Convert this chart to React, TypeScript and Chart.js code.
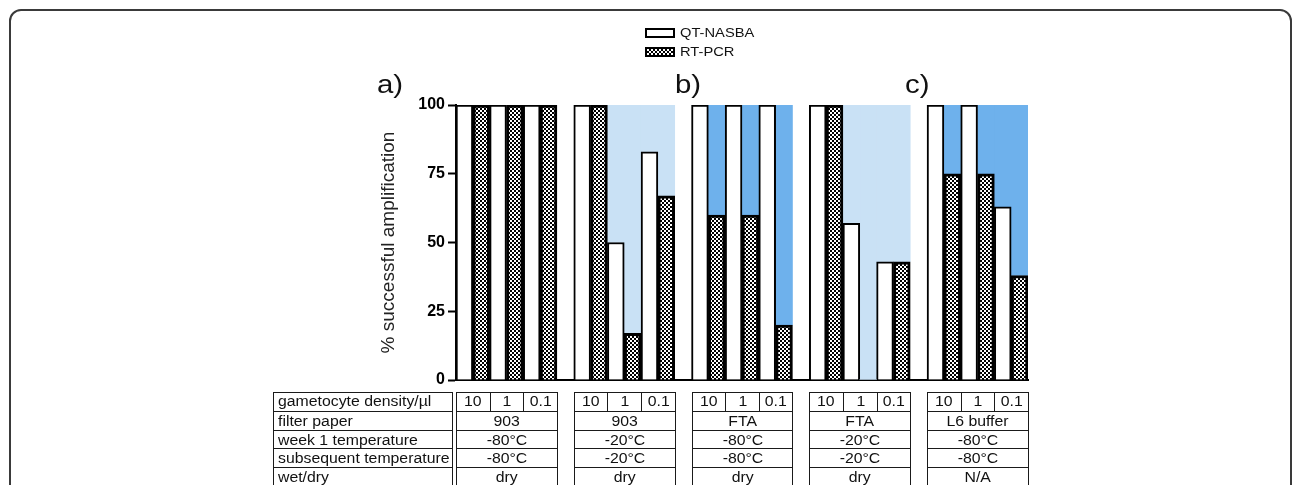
import React, { useEffect, useRef, useState } from 'react';
import { Chart, registerables } from 'chart.js';

Chart.register(...registerables);

// ---------- data ----------
const GROUP_COUNT = 5;
const DENSITIES = ['10', '1', '0.1'];
const QT_NASBA = [100, 100, 100, 100, 50, 83, 100, 100, 100, 100, 57, 43, 100, 100, 63];
const RT_PCR = [100, 100, 100, 100, 17, 67, 60, 60, 20, 100, 0, 43, 75, 75, 38];
const SHADE_COLORS = ['rgba(0,0,0,0)', '#c9e1f5', '#6eb1ec', '#c9e1f5', '#6eb1ec'];
const Y_TICKS = [0, 25, 50, 75, 100];
const ROW_LABELS = ['gametocyte density/µl', 'filter paper', 'week 1 temperature', 'subsequent temperature', 'wet/dry'];
const FILTER_PAPER = ['903', '903', 'FTA', 'FTA', 'L6 buffer'];
const WEEK1_TEMP = ['-80°C', '-20°C', '-80°C', '-20°C', '-80°C'];
const SUBSEQ_TEMP = ['-80°C', '-20°C', '-80°C', '-20°C', '-80°C'];
const WET_DRY = ['dry', 'dry', 'dry', 'dry', 'N/A'];
const PANEL_LABELS = ['a)', 'b)', 'c)'];
const LEGEND = ['QT-NASBA', 'RT-PCR'];

// ---------- layout ----------
const W = 1292;
const H = 485;
const FONT = '"Liberation Sans", Arial, Helvetica, sans-serif';
const PAIR_UNITS = 2; // two bars per density
const GROUP_GAP = 1;
const GROUP_UNITS = DENSITIES.length * PAIR_UNITS + GROUP_GAP;
const X_MAX = GROUP_COUNT * GROUP_UNITS - GROUP_GAP;
const pairCenter = (i: number) => Math.floor(i / 3) * GROUP_UNITS + (i % 3) * PAIR_UNITS + 1;
const groupOf = (i: number) => Math.floor(i / 3);

const TABLE_TOP = 392;
const ROW_H = 18.8;
const STRETCH = 1.13;
const PANEL_X = [377, 675, 905];

function makePattern(ctx: CanvasRenderingContext2D): CanvasPattern | string {
  const c = document.createElement('canvas');
  c.width = 4;
  c.height = 4;
  const p = c.getContext('2d')!;
  p.fillStyle = '#fff';
  p.fillRect(0, 0, 4, 4);
  p.fillStyle = '#000';
  p.fillRect(0, 0, 2, 2);
  p.fillRect(2, 2, 2, 2);
  return ctx.createPattern(c, 'repeat') || '#777';
}

const Txt: React.FC<{ children: React.ReactNode; origin?: string }> = ({ children, origin = 'center' }) => (
  <span style={{ display: 'inline-block', transform: `scaleX(${STRETCH})`, transformOrigin: `${origin} center`, whiteSpace: 'nowrap' }}>
    {children}
  </span>
);

export default function App() {
  const ref = useRef<HTMLCanvasElement>(null);
  const [cols, setCols] = useState<number[][] | null>(null);

  useEffect(() => {
    const canvas = ref.current!;
    const ctx = canvas.getContext('2d')!;
    const pattern = makePattern(ctx);
    Chart.defaults.font.family = FONT;
    const chart = new Chart(ctx, {
      type: 'bar',
      data: {
        datasets: [
          {
            label: LEGEND[0],
            data: QT_NASBA.map((v, i) => ({ x: pairCenter(i), y: v })),
            stack: 'qt',
            backgroundColor: '#ffffff',
            borderColor: '#000000',
            borderWidth: 2,
          },
          {
            label: LEGEND[1],
            data: RT_PCR.map((v, i) => ({ x: pairCenter(i), y: v })),
            stack: 'rt',
            backgroundColor: pattern as any,
            borderColor: '#000000',
            borderWidth: 3,
          },
          {
            label: 'qt-shade',
            data: QT_NASBA.map((v, i) => ({ x: pairCenter(i), y: 100 - v })),
            stack: 'qt',
            backgroundColor: (c: any) => SHADE_COLORS[groupOf(c.dataIndex)],
            borderWidth: 0,
          },
          {
            label: 'rt-shade',
            data: RT_PCR.map((v, i) => ({ x: pairCenter(i), y: 100 - v })),
            stack: 'rt',
            backgroundColor: (c: any) => SHADE_COLORS[groupOf(c.dataIndex)],
            borderWidth: 0,
          },
        ] as any,
      },
      options: {
        responsive: false,
        animation: false,
        layout: { padding: { left: 376, right: W - 1028, top: 105, bottom: H - 380 } },
        datasets: { bar: { categoryPercentage: 1, barPercentage: 1 } },
        plugins: { legend: { display: false }, tooltip: { enabled: false } },
        scales: {
          x: {
            type: 'linear',
            min: 0,
            max: X_MAX,
            offset: false,
            grid: { display: false },
            ticks: { display: false, stepSize: 17 },
            border: { display: true, color: '#000', width: 2 },
            afterFit: (s: any) => { s.height = 0; },
          },
          y: {
            stacked: true,
            min: 0,
            max: 100,
            afterBuildTicks: (s: any) => { s.ticks = Y_TICKS.map((v) => ({ value: v })); },
            ticks: { color: '#000', padding: 3, font: { size: 16, weight: 'bold', family: FONT } },
            grid: { display: true, drawOnChartArea: false, drawTicks: true, tickLength: 8, tickWidth: 2, tickColor: '#000' },
            border: { display: true, color: '#000', width: 2 },
            title: {
              display: true,
              text: '% successful amplification',
              color: '#222',
              font: { size: 19, family: FONT },
              padding: { top: 1, bottom: 0 },
            },
            afterFit: (s: any) => { s.width = 80; },
          },
        },
      } as any,
    });
    const xs = chart.scales.x;
    const c: number[][] = [];
    for (let g = 0; g < GROUP_COUNT; g++) {
      c.push([0, 2, 4, 6].map((u) => xs.getPixelForValue(g * GROUP_UNITS + u)));
    }
    setCols(c);
    return () => chart.destroy();
  }, []);

  const cellBase: React.CSSProperties = {
    position: 'absolute',
    boxSizing: 'border-box',
    height: ROW_H,
    lineHeight: `${ROW_H}px`,
    fontSize: 14,
    color: '#111',
    overflow: 'visible',
  };
  const border = '1px solid #1a1a1a';
  const blockStyle = (left: number, width: number): React.CSSProperties => ({
    position: 'absolute',
    left,
    top: TABLE_TOP,
    width,
    height: ROW_H * ROW_LABELS.length + 2,
    border,
    boxSizing: 'border-box',
    fontFamily: FONT,
  });
  const groupRows = (g: number) => [FILTER_PAPER[g], WEEK1_TEMP[g], SUBSEQ_TEMP[g], WET_DRY[g]];

  return (
    <div style={{ position: 'absolute', left: 0, top: 0, width: W, height: H, overflow: 'hidden', background: '#fff', fontFamily: FONT }}>
      <div style={{ position: 'absolute', left: 9, top: 9, width: 1283, height: 600, border: '2px solid #3a3a3a', borderRadius: 12, boxSizing: 'border-box' }} />
      <canvas ref={ref} width={W} height={H} style={{ position: 'absolute', left: 0, top: 0, width: W, height: H }} />

      {/* legend */}
      {LEGEND.map((t, i) => (
        <React.Fragment key={t}>
          <div
            style={{
              position: 'absolute',
              left: 645,
              top: 28 + i * 19,
              width: 30,
              height: 10,
              border: '2px solid #000',
              boxSizing: 'border-box',
              background: i === 0 ? '#fff' : 'repeating-conic-gradient(#000 0% 25%, #fff 0% 50%) 0 0 / 4px 4px',
            }}
          />
          <div style={{ position: 'absolute', left: 680, top: 25 + i * 19, fontSize: 13, lineHeight: '16px', color: '#111' }}>
            <Txt origin="left">{t}</Txt>
          </div>
        </React.Fragment>
      ))}

      {/* panel labels */}
      {PANEL_LABELS.map((t, i) => (
        <div key={t} style={{ position: 'absolute', left: PANEL_X[i], top: 71, fontSize: 26, lineHeight: '26px', color: '#111' }}>
          <Txt origin="left">{t}</Txt>
        </div>
      ))}

      {/* row labels table */}
      <div style={blockStyle(273, 180)}>
        {ROW_LABELS.map((t, r) => (
          <div key={t} style={{ ...cellBase, left: 0, width: 178, top: r * ROW_H - 1, borderTop: r > 0 ? border : 'none', paddingLeft: 4 }}>
            <Txt origin="left">{t}</Txt>
          </div>
        ))}
      </div>

      {/* group tables */}
      {cols &&
        cols.map((c, g) => {
          const left = Math.round(c[0]);
          const width = Math.round(c[3]) - left + 1;
          return (
            <div key={g} style={blockStyle(left, width)}>
              {DENSITIES.map((d, j) => (
                <div
                  key={d}
                  style={{
                    ...cellBase,
                    top: -1,
                    left: Math.round(c[j]) - left - 1,
                    width: Math.round(c[j + 1]) - Math.round(c[j]),
                    borderLeft: j > 0 ? border : 'none',
                    textAlign: 'center',
                  }}
                >
                  <Txt>{d}</Txt>
                </div>
              ))}
              {groupRows(g).map((t, r) => (
                <div
                  key={r}
                  style={{ ...cellBase, left: 0, width: width - 2, top: (r + 1) * ROW_H - 1, borderTop: border, textAlign: 'center' }}
                >
                  <Txt>{t}</Txt>
                </div>
              ))}
            </div>
          );
        })}
    </div>
  );
}
